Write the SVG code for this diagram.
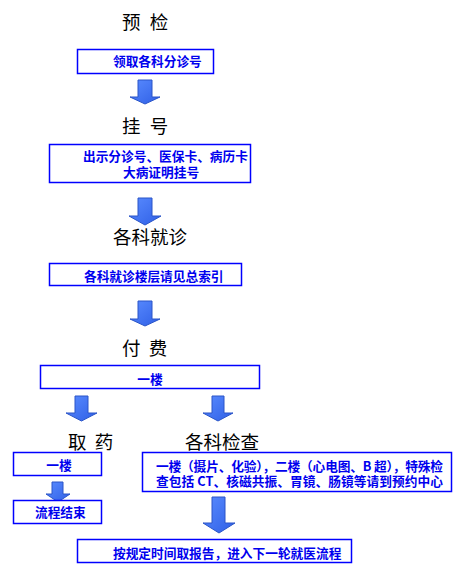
<svg xmlns="http://www.w3.org/2000/svg" width="462" height="577" viewBox="0 0 462 577">
<defs>
<linearGradient id="ag" x1="0" y1="0" x2="1" y2="1">
<stop offset="0" stop-color="#5a8cff"/>
<stop offset="1" stop-color="#2f5fe6"/>
</linearGradient>
<style>
.title{font-family:"Noto Sans CJK SC","Noto Sans",sans-serif;font-size:18.5px;fill:#000;}
.box{fill:#fff;stroke:#0000ff;stroke-width:1.5;}
.bt{font-family:"Noto Sans CJK SC","Noto Sans",sans-serif;font-size:12.7px;font-weight:bold;fill:#0000ee;}
.arr{fill:url(#ag);stroke:#2a55c8;stroke-width:1;}
</style>
</defs>
<rect width="462" height="577" fill="#fff"/>
<g id="connectors">
<path class="arr" d="M138,80 H152 V97 H160 L145,104 L130,97 H138 Z"/>
<path class="arr" d="M138,198 H152 V216 H161 L145,225 L129,216 H138 Z"/>
<path class="arr" d="M138,301 H152 V319 H160 L145,326 L130,319 H138 Z"/>
<path class="arr" d="M75,396 H88 V413 H97 L81.5,421 L66,413 H75 Z"/>
<path class="arr" d="M212,396 H224 V413 H233 L218,421 L203,413 H212 Z"/>
<path class="arr" d="M52,482 H63 V494 H70 L58,502 L46,494 H52 Z"/>
<path class="arr" d="M212,497 H225 V523 H235 L219,533 L203,523 H212 Z"/>
</g>
<g id="t-yujian"><text class="title" x="122" y="28.5" letter-spacing="2.5">预 检</text></g>
<g id="n-lingqu"><rect class="box" x="77.5" y="49.5" width="136" height="24"/><text class="bt" x="113" y="66">领取各科分诊号</text></g>
<g id="t-guahao"><text class="title" x="122" y="132.5" letter-spacing="2.5">挂 号</text></g>
<g id="n-chushi"><rect class="box" x="49.5" y="144.5" width="201" height="38"/><text class="bt" x="83" y="161" font-size="13">出示分诊号、医保卡、病历卡</text><text class="bt" x="123" y="177" font-size="13">大病证明挂号</text></g>
<g id="t-geke"><text class="title" x="113" y="243.5" font-size="19">各科就诊</text></g>
<g id="n-louceng"><rect class="box" x="49.5" y="263.5" width="192" height="22"/><text class="bt" x="84" y="281">各科就诊楼层请见总索引</text></g>
<g id="t-fufei"><text class="title" x="122" y="354.5" letter-spacing="2">付 费</text></g>
<g id="n-yilou1"><rect class="box" x="40.5" y="365.5" width="219" height="23"/><text class="bt" x="150" y="384" text-anchor="middle">一楼</text></g>
<g id="t-quyao"><text class="title" x="68" y="448.5" letter-spacing="2">取 药</text></g>
<g id="n-yilou2"><rect class="box" x="13.5" y="452.5" width="88" height="23"/><text class="bt" x="59" y="470" text-anchor="middle">一楼</text></g>
<g id="n-jieshu"><rect class="box" x="13.5" y="500.5" width="88" height="23"/><text class="bt" x="35" y="517">流程结束</text></g>
<g id="t-jiancha"><text class="title" x="185" y="448.5" font-size="19">各科检查</text></g>
<g id="n-jiancha"><rect class="box" x="142.5" y="452.5" width="309" height="39"/><text class="bt" x="156" y="471" font-size="12" textLength="287" lengthAdjust="spacing">一楼（摄片、化验），二楼（心电图、B 超），特殊检</text><text class="bt" x="156" y="486" font-size="12" textLength="287" lengthAdjust="spacing">查包括 CT、核磁共振、胃镜、肠镜等请到预约中心</text></g>
<g id="n-baogao"><rect class="box" x="77.5" y="539.5" width="274" height="23"/><text class="bt" x="113" y="557.5">按规定时间取报告，进入下一轮就医流程</text></g>
</svg>
